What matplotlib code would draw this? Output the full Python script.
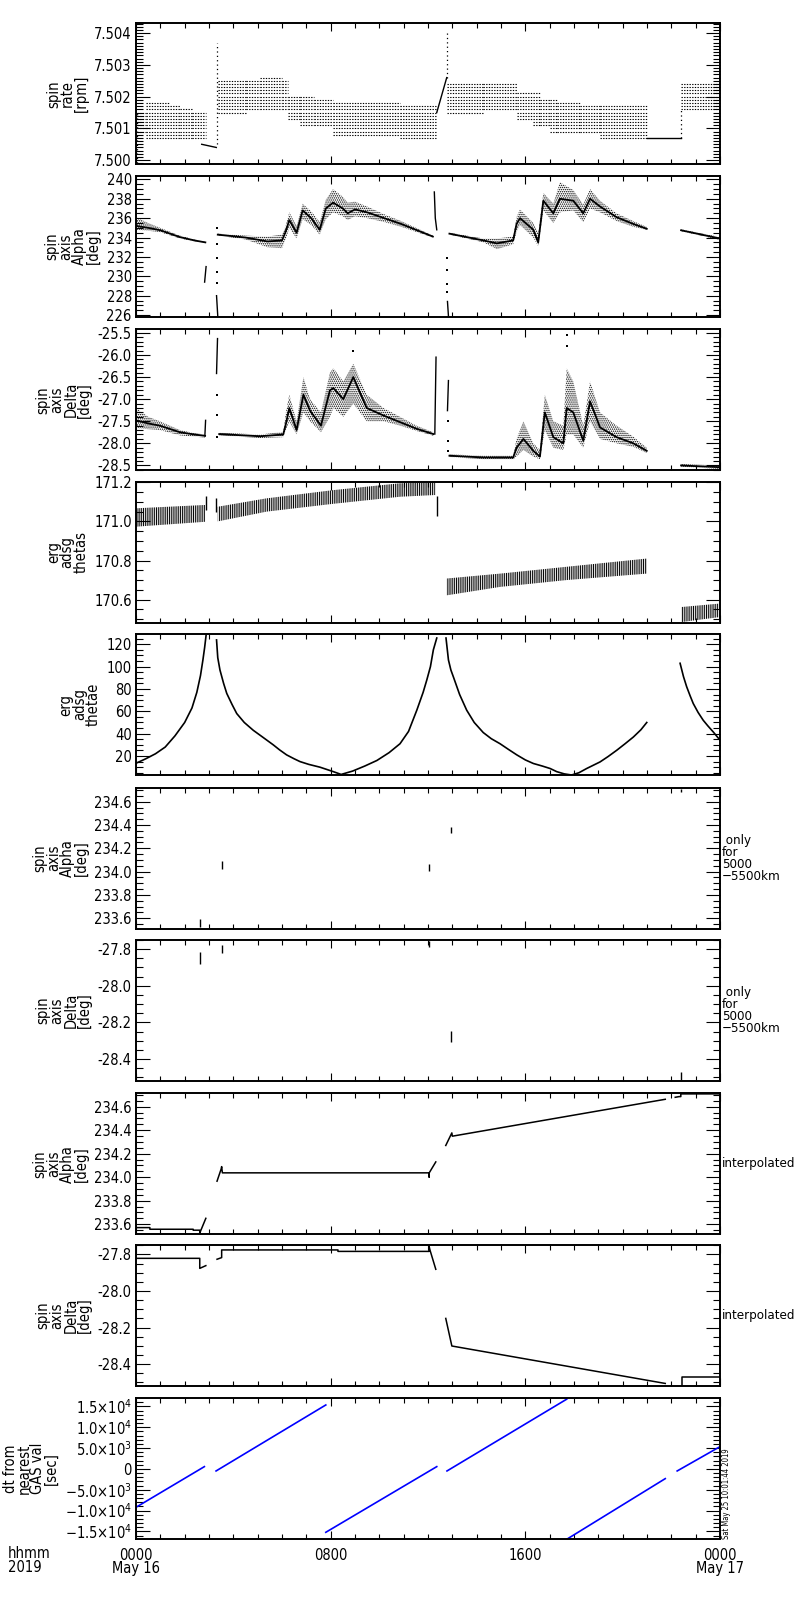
import numpy as np
import matplotlib
matplotlib.use('Agg')
import matplotlib.pyplot as plt
from matplotlib.ticker import MultipleLocator, AutoMinorLocator, FormatStrFormatter, FixedLocator

plt.rcParams['font.family'] = ['DejaVu Sans']
plt.rcParams['font.stretch'] = 'condensed'
plt.rcParams['font.size'] = 10
plt.rcParams['hatch.linewidth'] = 0.7

# ---- spin rate: quantised levels, one row of dots per 0.0001 rpm between lo and hi
rate_t0 = [0.05, 0.4, 1.4, 1.8, 2.3, 3.35, 4.54, 5.1, 6.0, 6.26, 6.74, 7.3, 8.1, 10.85,
           12.77, 14.28, 15.64, 16.33, 16.6, 17.0, 17.3, 18.25, 19.07, 22.4]
rate_t1 = [0.4, 1.4, 1.8, 2.3, 2.86, 4.54, 5.1, 6.0, 6.26, 6.74, 7.3, 8.1, 10.85, 12.36,
           14.28, 15.64, 16.33, 16.6, 17.0, 17.3, 18.25, 19.07, 20.99, 24.0]
rate_lo = [7.5009, 7.5007, 7.5007, 7.5007, 7.5007, 7.5015, 7.5016, 7.5016, 7.5016, 7.5013,
           7.5011, 7.5011, 7.5008, 7.5007, 7.5015, 7.5016, 7.5013, 7.5011, 7.5011, 7.5009,
           7.5009, 7.5009, 7.5007, 7.5016]
rate_hi = [7.5015, 7.5018, 7.5017, 7.5016, 7.5015, 7.5025, 7.5025, 7.5026, 7.5025, 7.5020,
           7.5020, 7.5019, 7.5018, 7.5017, 7.5024, 7.5024, 7.5021, 7.5021, 7.5019, 7.5019,
           7.5018, 7.5017, 7.5017, 7.5024]
rate_line_t = [[2.7, 3.3], [12.36, 12.77], [20.99, 22.4]]
rate_line_v = [[7.5005, 7.5004], [7.5015, 7.5026], [7.50069, 7.50069]]
rate_vdot_t = [0.03, 3.31, 12.77, 22.4]
rate_vdot_lo = [7.4999, 7.5005, 7.5026, 7.5007]
rate_vdot_hi = [7.5015, 7.5037, 7.5041, 7.5016]

# ---- spin axis Alpha: bands (centre, lower/upper edge of the scatter)
alpha_band_t = [[0.0, 0.5, 1.0, 1.8, 2.4, 2.85],
                [3.36, 4.5, 5.4, 6.0, 6.15, 6.3, 6.6, 6.85, 7.2, 7.55, 7.8, 8.1, 8.5, 8.7, 9.0,
                 9.5, 10.2, 10.9, 11.6, 12.2],
                [12.88, 14.28, 14.83, 15.5, 15.64, 15.78, 16.33, 16.53, 16.74, 17.15, 17.42,
                 17.97, 18.38, 18.66, 19.07, 19.75, 20.44, 20.99],
                [22.4, 24.0]]
alpha_band_c = [[235.2, 235.0, 234.75, 234.05, 233.7, 233.5],
                [234.3, 234.0, 233.6, 233.7, 234.6, 235.8, 234.5, 236.8, 236.0, 234.8, 237.0,
                 237.6, 237.0, 236.5, 236.9, 236.6, 236.0, 235.4, 234.7, 234.1],
                [234.4, 233.7, 233.4, 233.7, 235.4, 236.0, 234.8, 233.5, 237.8, 236.5, 238.0,
                 237.8, 236.5, 238.0, 237.2, 236.1, 235.4, 234.9],
                [234.75, 233.9]]
alpha_band_lo = [[234.8, 234.7, 234.55, 233.9, 233.62, 233.45],
                 [234.2, 233.8, 233.0, 232.9, 233.8, 235.0, 233.9, 235.9, 235.3, 234.3, 235.9,
                  236.6, 236.2, 235.8, 236.2, 236.0, 235.6, 235.1, 234.5, 234.0],
                 [234.3, 233.5, 232.8, 233.3, 234.6, 235.3, 234.0, 233.1, 236.8, 235.5, 236.6,
                  236.8, 235.6, 237.0, 236.6, 235.7, 235.1, 234.8],
                 [234.65, 233.75]]
alpha_band_hi = [[236.1, 235.5, 235.0, 234.2, 233.8, 233.55],
                 [234.4, 234.2, 234.1, 234.3, 235.2, 236.6, 235.2, 237.5, 236.7, 235.6, 237.9,
                  239.0, 238.2, 237.6, 237.7, 237.2, 236.4, 235.7, 234.9, 234.2],
                 [234.5, 233.9, 233.9, 234.1, 236.1, 236.9, 235.5, 234.4, 238.6, 237.5, 239.7,
                  238.9, 237.4, 239.0, 237.8, 236.5, 235.7, 235.1],
                 [234.85, 234.05]]
alpha_spike_t = [[2.82, 2.88], [3.31, 3.36], [12.26, 12.3, 12.36], [12.8, 12.84]]
alpha_spike_v = [[229.4, 231.0], [228.0, 225.9], [238.7, 236.0, 234.8], [227.4, 225.9]]
alpha_dot_t = [3.33, 3.33, 3.33, 3.33, 3.33, 12.8, 12.8, 12.8, 12.8]
alpha_dot_v = [235.0, 233.3, 231.9, 230.4, 229.3, 231.9, 230.6, 229.2, 228.4]

# ---- spin axis Delta
delta_band_t = [[0.0, 0.5, 0.98, 1.81, 2.4, 2.84],
                [3.42, 5.1, 6.05, 6.16, 6.3, 6.6, 6.88, 7.15, 7.6, 7.97, 8.11, 8.52, 8.93, 9.48,
                 10.17, 10.85, 11.53, 12.22],
                [12.88, 14.28, 15.5, 15.64, 15.92, 16.33, 16.6, 16.8, 17.15, 17.56, 17.7, 17.97,
                 18.38, 18.66, 19.07, 19.75, 20.44, 20.99],
                [22.4, 24.0]]
delta_band_c = [[-27.48, -27.55, -27.6, -27.75, -27.8, -27.83],
                [-27.79, -27.84, -27.8, -27.56, -27.2, -27.7, -26.9, -27.26, -27.6, -26.8, -26.75,
                 -27.0, -26.5, -27.2, -27.37, -27.52, -27.67, -27.79],
                [-28.28, -28.32, -28.32, -28.1, -27.9, -28.17, -28.3, -27.3, -27.86, -28.0, -27.2,
                 -27.3, -27.94, -27.05, -27.64, -27.86, -28.0, -28.17],
                [-28.5, -28.54]]
delta_band_lo = [[-27.65, -27.68, -27.7, -27.82, -27.85, -27.87],
                 [-27.82, -27.88, -27.86, -27.7, -27.5, -27.8, -27.3, -27.5, -27.75, -27.4, -27.2,
                  -27.4, -27.1, -27.5, -27.5, -27.6, -27.72, -27.83],
                 [-28.31, -28.36, -28.36, -28.3, -28.15, -28.3, -28.36, -27.7, -28.1, -28.15, -27.8,
                  -27.8, -28.1, -27.5, -27.9, -28.0, -28.08, -28.22],
                 [-28.53, -28.58]]
delta_band_hi = [[-27.2, -27.4, -27.5, -27.7, -27.77, -27.8],
                 [-27.76, -27.8, -27.74, -27.3, -26.9, -27.5, -26.5, -27.0, -27.3, -26.4, -26.3,
                  -26.6, -26.2, -26.9, -27.2, -27.4, -27.6, -27.75],
                 [-28.25, -28.28, -28.28, -27.9, -27.5, -28.0, -28.15, -26.9, -27.5, -27.6, -26.3,
                  -26.6, -27.6, -26.6, -27.3, -27.6, -27.85, -28.1],
                 [-28.47, -28.5]]
delta_spike_t = [[2.83, 2.86], [3.31, 3.35], [12.28, 12.33], [12.8, 12.84]]
delta_spike_v = [[-27.83, -27.48], [-26.42, -25.63], [-27.79, -26.05], [-27.26, -26.58]]
delta_dot_t = [3.33, 3.33, 3.33, 12.82, 12.82, 12.82, 8.93, 17.7, 17.7]
delta_dot_v = [-26.9, -27.35, -27.85, -27.5, -27.95, -28.17, -25.9, -25.55, -25.8]

# ---- erg adsg thetas (sawtooth bands)
ts_band_t = [[0.0, 2.84], [3.36, 5.37, 8.11, 10.85, 12.3], [12.77, 14.96, 17.7, 20.99], [22.4, 24.0]]
ts_band_lo = [[170.973, 170.998], [171.0, 171.05, 171.09, 171.126, 171.135],
              [170.622, 170.665, 170.7, 170.733], [170.485, 170.511]]
ts_band_hi = [[171.067, 171.084], [171.075, 171.118, 171.16, 171.195, 171.2],
              [170.708, 170.733, 170.768, 170.81], [170.562, 170.58]]
ts_spike_t = [2.88, 3.29, 12.39]
ts_spike_lo = [171.06, 171.05, 171.03]
ts_spike_hi = [171.13, 171.12, 171.13]

# ---- erg adsg thetae
te_t = [[0.0, 0.4, 0.8, 1.2, 1.6, 2.0, 2.3, 2.5, 2.65, 2.75, 2.82, 2.88],
        [3.31, 3.36, 3.45, 3.6, 3.73, 3.95, 4.14, 4.45, 4.82, 5.2, 5.64, 5.9, 6.19, 6.5, 6.74,
         7.1, 7.56, 8.11, 8.43, 8.9, 9.4, 9.9, 10.4, 10.85, 11.2, 11.54, 11.8, 11.95, 12.1,
         12.22, 12.36],
        [12.74, 12.84, 12.94, 13.04, 13.3, 13.59, 13.9, 14.27, 14.6, 14.96, 15.3, 15.65, 16.0,
         16.33, 16.7, 17.02, 17.29, 17.6, 17.9, 18.2, 18.52, 19.07, 19.4, 19.76, 20.1, 20.44,
         20.75, 20.99],
        [22.36, 22.5, 22.63, 22.77, 22.9, 23.1, 23.31, 23.5, 23.72, 24.0]]
te_v = [[13.5, 17.5, 22.0, 28.0, 38.0, 50.0, 63.0, 77.0, 92.0, 106.0, 117.0, 128.0],
        [123.9, 108.0, 97.0, 85.0, 76.0, 66.0, 58.0, 50.0, 43.0, 37.0, 30.0, 25.5, 21.0, 17.5,
         15.0, 12.5, 10.0, 6.0, 3.5, 6.5, 11.0, 16.0, 23.0, 31.0, 42.0, 61.0, 77.0, 88.0, 100.0,
         115.0, 125.6],
        [125.6, 106.0, 97.0, 91.0, 75.0, 61.0, 50.0, 41.0, 35.5, 31.0, 26.0, 21.0, 16.5, 13.3,
         11.0, 8.8, 6.0, 4.0, 3.0, 5.0, 8.8, 14.7, 19.5, 25.2, 31.0, 37.0, 43.5, 50.0],
        [103.0, 91.0, 82.0, 74.0, 67.0, 59.0, 52.0, 47.0, 41.6, 34.2]]

# ---- only for 5000-5500km
only_t = [2.64, 3.52, 12.06, 12.95, 22.39]
alpha_only_lo = [233.523, 234.023, 234.003, 234.33, 234.68]
alpha_only_hi = [233.589, 234.094, 234.066, 234.38, 234.71]
delta_only_lo = [-27.882, -27.823, -27.787, -28.305, -28.515]
delta_only_hi = [-27.818, -27.778, -27.756, -28.247, -28.469]

# ---- interpolated
alpha_int_t = [[0.0, 0.57, 0.57, 2.35, 2.35, 2.62, 2.62, 2.65, 2.87],
               [3.33, 3.5, 3.52, 3.55, 12.05, 12.05, 12.05, 12.32],
               [12.73, 12.98, 13.0, 21.75],
               [22.16, 22.32, 22.39, 22.39, 24.0]]
alpha_int_v = [[233.571, 233.571, 233.557, 233.557, 233.549, 233.549, 233.52, 233.54, 233.65],
               [233.966, 234.07, 234.09, 234.037, 234.037, 234.0, 234.037, 234.13],
               [234.27, 234.377, 234.349, 234.663],
               [234.68, 234.686, 234.686, 234.709, 234.709]]
delta_int_t = [[0.0, 2.62, 2.62, 2.87],
               [3.33, 3.52, 3.52, 8.3, 8.3, 12.04, 12.04, 12.08, 12.32],
               [12.73, 12.98, 21.75],
               [22.43, 22.43, 24.0]]
delta_int_v = [[-27.821, -27.821, -27.876, -27.861],
               [-27.826, -27.817, -27.775, -27.775, -27.783, -27.783, -27.752, -27.775, -27.881],
               [-28.15, -28.301, -28.506],
               [-28.52, -28.473, -28.473]]

# ---- dt from nearest GAS val
dt_t = [[0.0, 2.81], [3.29, 7.80], [7.80, 12.36], [12.78, 17.70], [17.70, 21.75], [22.24, 24.0]]
dt_v = [[-9200, 560], [-480, 15360], [-15200, 560], [-480, 16750], [-16880, -2320], [-480, 5360]]
dt_ticks = [-15000, -10000, -5000, 0, 5000, 10000, 15000]
dt_ticklabels = [r'$-$1.5$\times$10$^4$', r'$-$1.0$\times$10$^4$', r'$-$5.0$\times$10$^3$', '0',
                 r'5.0$\times$10$^3$', r'1.0$\times$10$^4$', r'1.5$\times$10$^4$']

titles = ['spin\nrate\n[rpm]', 'spin\naxis\nAlpha\n[deg]', 'spin\naxis\nDelta\n[deg]',
          'erg\nadsg\nthetas', 'erg\nadsg\nthetae', 'spin\naxis\nAlpha\n[deg]',
          'spin\naxis\nDelta\n[deg]', 'spin\naxis\nAlpha\n[deg]', 'spin\naxis\nDelta\n[deg]',
          'dt from\nnearest\nGAS val\n[sec]']
ylims = [(7.49987, 7.50431), (225.8, 240.35), (-28.61, -25.42), (170.482, 171.203), (3.0, 129.2),
         (233.51, 234.72), (-28.52, -27.75), (233.514, 234.714), (-28.52, -27.748), (-16880, 16960)]
majors = [0.001, 2, 0.5, 0.2, 20, 0.2, 0.2, 0.2, 0.2, 5000]
minors = [10, 4, 5, 4, 4, 4, 4, 4, 4, 5]
fmts = ['%.3f', '%d', '%.1f', '%.1f', '%d', '%.1f', '%.1f', '%.1f', '%.1f', None]
only_note = ' only\nfor\n5000\n\u22125500km'
right_notes = [None, None, None, None, None, only_note, only_note, 'interpolated', 'interpolated', None]

tops_px = [23.3, 176, 329.3, 481.7, 634, 787.7, 940, 1093.3, 1245, 1398.3]

fig = plt.figure(figsize=(8, 16), dpi=100)
axes = []
for i, top in enumerate(tops_px):
    ax = fig.add_axes([136 / 800, 1 - (top + 141) / 1600, 584 / 800, 141 / 1600])
    ax.set_xlim(0, 24)
    ax.set_ylim(*ylims[i])
    ax.xaxis.set_major_locator(MultipleLocator(8))
    ax.xaxis.set_minor_locator(MultipleLocator(1))
    if i == 9:
        ax.yaxis.set_major_locator(FixedLocator(dt_ticks))
        ax.set_yticklabels(dt_ticklabels)
    else:
        ax.yaxis.set_major_locator(MultipleLocator(majors[i]))
        ax.yaxis.set_major_formatter(FormatStrFormatter(fmts[i]))
    ax.yaxis.set_minor_locator(AutoMinorLocator(minors[i]))
    ax.tick_params(which='both', direction='in', top=True, right=True, width=0.8, pad=3)
    ax.tick_params(axis='y', which='major', length=10, labelsize=10.5)
    ax.tick_params(axis='y', which='minor', length=5)
    ax.tick_params(axis='x', which='major', length=6)
    ax.tick_params(axis='x', which='minor', length=3.5)
    for s in ax.spines.values():
        s.set_linewidth(1.4)
    ax.set_ylabel(titles[i], fontsize=10.5, linespacing=0.9, labelpad=4)
    if right_notes[i]:
        ax.text(1.003, 0.5, right_notes[i], transform=ax.transAxes, ha='left', va='center',
                fontsize=9.5, linespacing=0.9)
    if i < 9:
        ax.set_xticklabels([])
    axes.append(ax)

# panel 1: spin rate
ax = axes[0]
for t0, t1, lo, hi in zip(rate_t0, rate_t1, rate_lo, rate_hi):
    levels = np.arange(lo, hi + 0.00005, 0.0001)
    ax.hlines(levels, t0, t1, colors='k', linewidth=0.8, linestyles=(0, (1.2, 1.2)))
for tt, vv in zip(rate_line_t, rate_line_v):
    ax.plot(tt, vv, color='k', linewidth=1.0)
ax.vlines(rate_vdot_t, rate_vdot_lo, rate_vdot_hi, colors='k', linewidth=0.9, linestyles=(0, (1, 2.5)))

# panels 2-3: scattered spin-axis angles
for ax, bt, bc, blo, bhi, st, sv, dtt, dvv in [
        (axes[1], alpha_band_t, alpha_band_c, alpha_band_lo, alpha_band_hi,
         alpha_spike_t, alpha_spike_v, alpha_dot_t, alpha_dot_v),
        (axes[2], delta_band_t, delta_band_c, delta_band_lo, delta_band_hi,
         delta_spike_t, delta_spike_v, delta_dot_t, delta_dot_v)]:
    for tt, cc, lo, hi in zip(bt, bc, blo, bhi):
        ax.fill_between(tt, lo, hi, facecolor='none', edgecolor='k', hatch='........', linewidth=0)
        ax.plot(tt, cc, color='k', linewidth=1.3)
    for tt, vv in zip(st, sv):
        ax.plot(tt, vv, color='k', linewidth=1.0)
    ax.scatter(dtt, dvv, s=1.5, color='k', marker='s', linewidths=0)

# panel 4: thetas
ax = axes[3]
for tt, lo, hi in zip(ts_band_t, ts_band_lo, ts_band_hi):
    ax.fill_between(tt, lo, hi, facecolor='none', edgecolor='k', hatch='|||||||||', linewidth=0)
ax.vlines(ts_spike_t, ts_spike_lo, ts_spike_hi, colors='k', linewidth=1.0)

# panel 5: thetae
ax = axes[4]
for tt, vv in zip(te_t, te_v):
    ax.plot(tt, vv, color='k', linewidth=1.2)

# panels 6-7: only for 5000-5500 km
axes[5].vlines(only_t, alpha_only_lo, alpha_only_hi, colors='k', linewidth=1.0)
axes[6].vlines(only_t, delta_only_lo, delta_only_hi, colors='k', linewidth=1.0)

# panels 8-9: interpolated
for tt, vv in zip(alpha_int_t, alpha_int_v):
    axes[7].plot(tt, vv, color='k', linewidth=1.1)
for tt, vv in zip(delta_int_t, delta_int_v):
    axes[8].plot(tt, vv, color='k', linewidth=1.1)

# panel 10: dt
ax = axes[9]
for tt, vv in zip(dt_t, dt_v):
    ax.plot(tt, vv, color='#0000ff', linewidth=1.2)
ax.set_xticks([0, 8, 16, 24])
ax.set_xticklabels(['0000\nMay 16', '0800', '1600', '0000\nMay 17'], linespacing=0.9)
ax.tick_params(axis='x', pad=6, labelsize=10.5)
ax.text(1.003, 0.0, 'Sat May 25 10:01:44 2019', transform=ax.transAxes, rotation=90,
        ha='left', va='bottom', fontsize=5.5)

fig.text(0.01, 1 - 1546 / 1600, 'hhmm\n2019', ha='left', va='top', fontsize=10.5, linespacing=0.9)

fig.savefig('out.png', dpi=100)
